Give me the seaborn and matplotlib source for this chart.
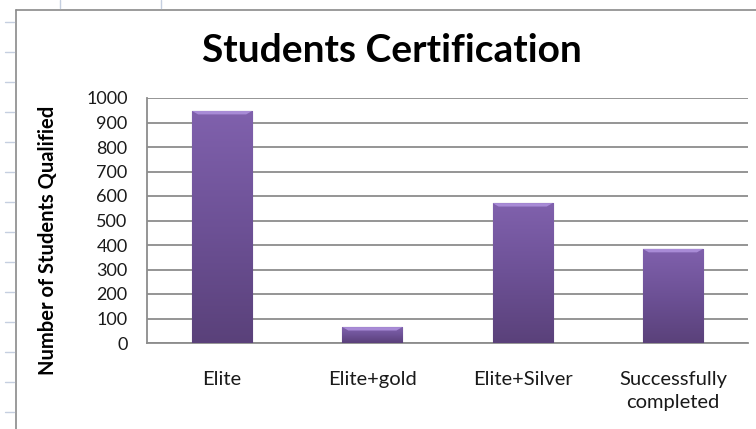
import numpy as np
import pandas as pd
import seaborn as sns
import matplotlib
matplotlib.use("Agg")
import matplotlib.pyplot as plt
from matplotlib.lines import Line2D

sns.set_style("white")
plt.rcParams['font.family'] = ['Lato', 'DejaVu Sans']

# data
categories = ['Elite', 'Elite+gold', 'Elite+Silver', 'Successfully\ncompleted']
students = [947, 65, 571, 384]
yticks = list(range(0, 1001, 100))

df = pd.DataFrame({'category': categories, 'students': students})

fig = plt.figure(figsize=(7.56, 4.29), dpi=100)
ax = fig.add_axes([147 / 756, 86 / 429, 601 / 756, 245 / 429])

sns.barplot(data=df, x='category', y='students', color='#6f5199', width=0.4,
            edgecolor='#4e3870', linewidth=0.8, saturation=1, ax=ax, zorder=3)

# vertical gradient on each bar, like the excel bevel look
grad = np.linspace(0, 1, 256).reshape(-1, 1)
cmap = matplotlib.colors.LinearSegmentedColormap.from_list(
    'bar', ['#5a417a', '#6d5196', '#8061ad'])
for p in ax.patches:
    x0, y0 = p.get_x(), p.get_y()
    w, h = p.get_width(), p.get_height()
    im = ax.imshow(grad, cmap=cmap, aspect='auto', origin='lower',
                   extent=[x0, x0 + w, y0, y0 + h], zorder=4)
    im.set_clip_path(p)
    # light top bevel
    ax.fill([x0, x0 + w, x0 + w * 0.9, x0 + w * 0.1],
            [y0 + h, y0 + h, y0 + h - 14, y0 + h - 14],
            color='#a88bd6', zorder=5, linewidth=0)

ax.set_xlim(-0.5, 3.5)
ax.set_ylim(0, 1000)
ax.set_yticks(yticks)
ax.set_yticklabels([str(t) for t in yticks])
ax.yaxis.grid(True, color='#8c8c8c', linewidth=1.3, zorder=0)
ax.set_axisbelow(True)
for s in ['left', 'bottom']:
    ax.spines[s].set_color('#8c8c8c')
    ax.spines[s].set_linewidth(1.3)
for s in ['top', 'right']:
    ax.spines[s].set_visible(False)

ax.tick_params(axis='y', length=0, pad=14, labelsize=13, labelcolor='#1a1a1a')
ax.tick_params(axis='x', length=0, pad=20, labelsize=14.5, labelcolor='#1a1a1a')
for lbl in ax.get_xticklabels():
    lbl.set_linespacing(1.45)
ax.set_xlabel('')
ax.set_ylabel('Number of Students Qualified', fontsize=14.5, fontweight='bold',
              color='black')
ax.yaxis.set_label_coords(-0.148, 0.42)

fig.text(392 / 756, 1 - 51 / 429, 'Students Certification', ha='center',
         va='center', fontsize=28, fontweight='bold', color='black')

# chart frame and spreadsheet grid marks
fig.add_artist(Line2D([16 / 756, 16 / 756], [0, 1 - 10 / 429],
                      color='#8a8a8a', linewidth=1.2))
fig.add_artist(Line2D([16 / 756, 1], [1 - 10 / 429, 1 - 10 / 429],
                      color='#8a8a8a', linewidth=1.2))
for yy in range(22, 429, 30):
    fig.add_artist(Line2D([5 / 756, 14 / 756], [1 - yy / 429, 1 - yy / 429],
                          color='#c5cfe0', linewidth=1))
for xx in [60, 161]:
    fig.add_artist(Line2D([xx / 756, xx / 756], [1 - 8 / 429, 1],
                          color='#c5cfe0', linewidth=1))

fig.savefig('out.png', dpi=100)
